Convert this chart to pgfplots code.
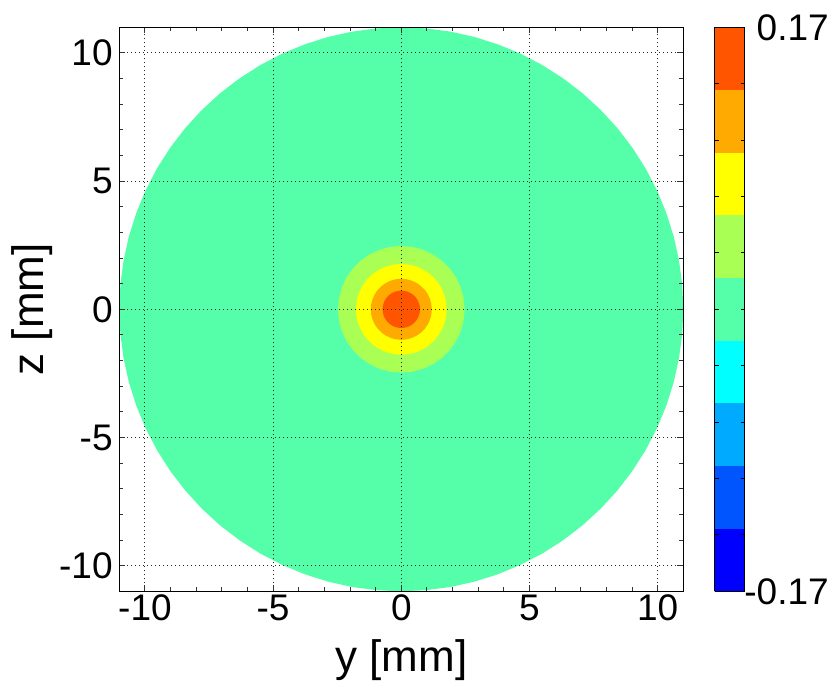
\documentclass[border=0pt]{standalone}
\usepackage{pgfplots}
\pgfplotsset{compat=1.18}
\usepackage{fontspec}
\setmainfont{Liberation Sans}
\definecolor{c5}{RGB}{85,255,170}
\definecolor{c6}{RGB}{170,255,85}
\definecolor{c7}{RGB}{255,255,0}
\definecolor{c8}{RGB}{255,170,0}
\definecolor{c9}{RGB}{255,85,0}
\pgfplotsset{colormap={jetnine}{rgb255=(0,0,255) rgb255=(0,85,255) rgb255=(0,170,255) rgb255=(0,255,255) rgb255=(85,255,170) rgb255=(170,255,85) rgb255=(255,255,0) rgb255=(255,170,0) rgb255=(255,85,0)}}
\begin{document}
\begin{tikzpicture}
\path[use as bounding box] (-119.3pt,-91.7pt) rectangle (710.7pt,591.3pt);
\begin{axis}[
  scale only axis, width=564pt, height=564pt,
  xmin=-11, xmax=11, ymin=-11, ymax=11,
  axis on top,
  xtick={-10,-5,0,5,10}, xticklabels={-10,-5,0,5,10},
  ytick={-10,-5,0,5,10}, yticklabels={-10,-5,0,5,10},
  minor tick num=4,
  tick align=inside,
  major tick length=6pt, minor tick length=4pt,
  tick style={black!80, line width=0.9pt},
  axis line style={black, line width=1pt},
  grid=major,
  grid style={black!85, line width=1pt, dash pattern=on 1pt off 3pt},
  ticklabel style={font=\fontsize{37}{40}\selectfont},
  yticklabel style={inner xsep=6.5pt},
  label style={font=\fontsize{44}{48}\selectfont},
  xlabel={y [mm]}, ylabel={z [mm]},
  xlabel style={at={(axis description cs:0.5,0)}, anchor=north, yshift=-47.7pt, inner sep=0pt},
  ylabel style={at={(axis description cs:-0.1181,0.5)}, anchor=south, inner sep=0pt},
  colormap name=jetnine, colormap access=piecewise constant,
  point meta min=-0.17, point meta max=0.17,
  colorbar,
  colorbar style={
    at={(parent axis.north east)}, anchor=north west, xshift=22.7pt,
    scale only axis, width=30pt, height=564pt,
    axis on top,
    ytick={-0.17,-0.136,-0.102,-0.068,-0.034,0,0.034,0.068,0.102,0.136,0.17},
    yticklabels={\mbox{-0.17},{},{},{},{},{},{},{},{},{},\mbox{0.17}},
    ytick pos=both, yticklabel pos=right,
    tick align=inside,
    major tick length=4pt,
    tick style={black, line width=0.9pt},
    axis line style={black, line width=1pt},
    yticklabel style={font=\fontsize{37}{40}\selectfont, anchor=west, text width=90pt, align=right, inner sep=0pt, xshift=-6pt},
  },
]
\addplot[draw=none, fill=c5, data cs=polar] coordinates {
(0,11) (5,11) (10,11) (15,11) (20,11) (25,11) (30,11) (35,11) (40,11) (45,11) (50,11) (55,11)
(60,11) (65,11) (70,11) (75,11) (80,11) (85,11) (90,11) (95,11) (100,11) (105,11) (110,11) (115,11)
(120,11) (125,11) (130,11) (135,11) (140,11) (145,11) (150,11) (155,11) (160,11) (165,11) (170,11) (175,11)
(180,11) (185,11) (190,11) (195,11) (200,11) (205,11) (210,11) (215,11) (220,11) (225,11) (230,11) (235,11)
(240,11) (245,11) (250,11) (255,11) (260,11) (265,11) (270,11) (275,11) (280,11) (285,11) (290,11) (295,11)
(300,11) (305,11) (310,11) (315,11) (320,11) (325,11) (330,11) (335,11) (340,11) (345,11) (350,11) (355,11)};
\addplot[draw=none, fill=c6, data cs=polar] coordinates {
(0,2.47) (10,2.47) (20,2.47) (30,2.47) (40,2.47) (50,2.47) (60,2.47) (70,2.47) (80,2.47)
(90,2.47) (100,2.47) (110,2.47) (120,2.47) (130,2.47) (140,2.47) (150,2.47) (160,2.47) (170,2.47)
(180,2.47) (190,2.47) (200,2.47) (210,2.47) (220,2.47) (230,2.47) (240,2.47) (250,2.47) (260,2.47)
(270,2.47) (280,2.47) (290,2.47) (300,2.47) (310,2.47) (320,2.47) (330,2.47) (340,2.47) (350,2.47)};
\addplot[draw=none, fill=c7, data cs=polar] coordinates {
(0,1.77) (10,1.77) (20,1.77) (30,1.77) (40,1.77) (50,1.77) (60,1.77) (70,1.77) (80,1.77)
(90,1.77) (100,1.77) (110,1.77) (120,1.77) (130,1.77) (140,1.77) (150,1.77) (160,1.77) (170,1.77)
(180,1.77) (190,1.77) (200,1.77) (210,1.77) (220,1.77) (230,1.77) (240,1.77) (250,1.77) (260,1.77)
(270,1.77) (280,1.77) (290,1.77) (300,1.77) (310,1.77) (320,1.77) (330,1.77) (340,1.77) (350,1.77)};
\addplot[draw=none, fill=c8, data cs=polar] coordinates {
(0,1.19) (10,1.19) (20,1.19) (30,1.19) (40,1.19) (50,1.19) (60,1.19) (70,1.19) (80,1.19)
(90,1.19) (100,1.19) (110,1.19) (120,1.19) (130,1.19) (140,1.19) (150,1.19) (160,1.19) (170,1.19)
(180,1.19) (190,1.19) (200,1.19) (210,1.19) (220,1.19) (230,1.19) (240,1.19) (250,1.19) (260,1.19)
(270,1.19) (280,1.19) (290,1.19) (300,1.19) (310,1.19) (320,1.19) (330,1.19) (340,1.19) (350,1.19)};
\addplot[draw=none, fill=c9, data cs=polar] coordinates {
(0,0.73) (10,0.73) (20,0.73) (30,0.73) (40,0.73) (50,0.73) (60,0.73) (70,0.73) (80,0.73)
(90,0.73) (100,0.73) (110,0.73) (120,0.73) (130,0.73) (140,0.73) (150,0.73) (160,0.73) (170,0.73)
(180,0.73) (190,0.73) (200,0.73) (210,0.73) (220,0.73) (230,0.73) (240,0.73) (250,0.73) (260,0.73)
(270,0.73) (280,0.73) (290,0.73) (300,0.73) (310,0.73) (320,0.73) (330,0.73) (340,0.73) (350,0.73)};
\end{axis}
\end{tikzpicture}
\end{document}
